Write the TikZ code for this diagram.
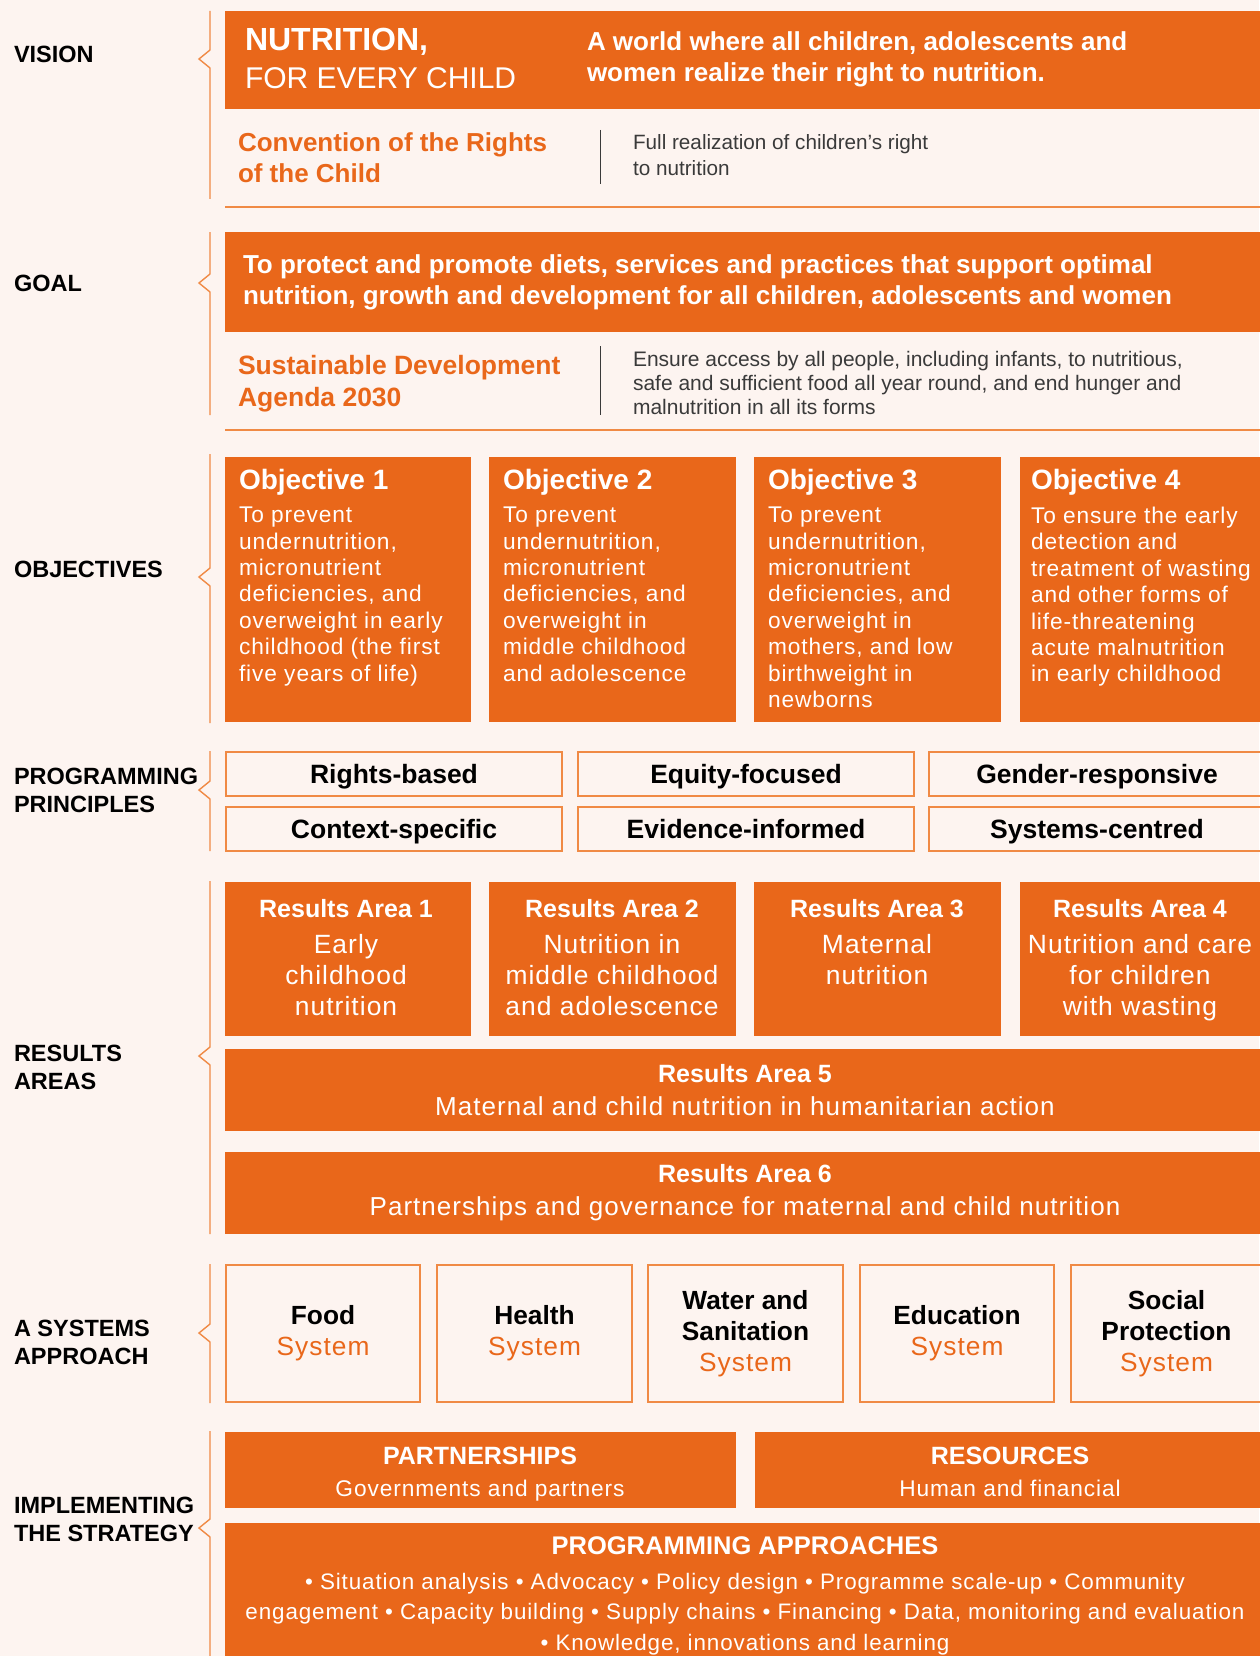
\documentclass[tikz,border=0pt]{standalone}
\usepackage{fontspec}
\setmainfont{Liberation Sans}
\newfontfamily\trk{Liberation Sans}[LetterSpace=4]
\definecolor{bg}{HTML}{FDF4F0}
\definecolor{org}{HTML}{E9671A}
\definecolor{lorg}{HTML}{F08A45}
\definecolor{dgray}{HTML}{3A3A3A}
\newcommand{\fz}[2]{\fontsize{#1}{#2}\selectfont}
\begin{document}
\begin{tikzpicture}[x=1pt,y=-1pt,
  every node/.style={inner sep=0pt, outer sep=0pt},
  obox/.style={fill=org, anchor=north west},
  lbl/.style={anchor=west, align=left, font=\bfseries\fz{23.5}{28}, text=black},
  brk/.style={draw=lorg, line width=1.4pt},
  rule/.style={draw=lorg, line width=1.3pt},
  sep/.style={draw=dgray, line width=0.8pt},
  src/.style={anchor=west, align=left, text=org, font=\bfseries\fz{26}{31}},
  srct/.style={anchor=west, align=left, text=dgray, font=\fz{21}{24}},
  ohead/.style={anchor=west, text=white, font=\bfseries\fz{28}{30}},
  obody/.style={anchor=north west, align=left, text=white, font=\trk\fz{22.7}{26.4}},
  pbox/.style={draw=lorg, line width=1.3pt, anchor=north west, minimum height=44pt, text height=19pt, text depth=0pt, font=\bfseries\fz{26.5}{28}},
  rhead/.style={text=white, font=\bfseries\fz{25}{28}},
  rbody/.style={anchor=north, align=center, text=white, font=\trk\fz{26.4}{31}},
  wide/.style={obox, minimum width=1040pt, align=center, text=white, font=\fz{26}{33}},
  sbox/.style={draw=lorg, line width=1.3pt, anchor=north west, minimum height=137pt, align=center, font=\bfseries\fz{26.3}{31}},
  ititle/.style={anchor=base, text=white, font=\bfseries\fz{25}{30}},
  isub/.style={anchor=base, text=white, font=\trk\fz{22.7}{30}}
]
\fill[bg] (0,0) rectangle (1259,1656);
\useasboundingbox (0,0) rectangle (1259,1656);

% left labels
\node[lbl] (lv) at (14,54) {VISION};
\node[lbl] (lg) at (14,283) {GOAL};
\node[lbl] (lo) at (14,569) {OBJECTIVES};
\node[lbl] (lp) at (14,790) {PROGRAMMING\\PRINCIPLES};
\node[lbl] (lr) at (14,1067) {RESULTS\\AREAS};
\node[lbl] (ls) at (14,1342) {A SYSTEMS\\APPROACH};
\node[lbl] (li) at (14,1519) {IMPLEMENTING\\THE STRATEGY};

% brackets
\draw[brk] (210,11) -- (210,50) -- (199,59) -- (210,68) -- (210,199);
\draw[brk] (210,232) -- (210,274) -- (199,283) -- (210,292) -- (210,415);
\draw[brk] (210,454) -- (210,568) -- (199,577) -- (210,586) -- (210,723);
\draw[brk] (210,751) -- (210,781) -- (199,790) -- (210,799) -- (210,851);
\draw[brk] (210,881) -- (210,1047) -- (199,1056) -- (210,1065) -- (210,1234);
\draw[brk] (210,1264) -- (210,1324) -- (199,1333) -- (210,1342) -- (210,1403);
\draw[brk] (210,1431) -- (210,1519) -- (199,1528) -- (210,1537) -- (210,1660);

% VISION
\node[obox, minimum width=1040pt, minimum height=98pt] (vb) at (225,11) {};
\node[anchor=base west, text=white, font=\bfseries\fz{32}{36}] (vn) at (245,51) {NUTRITION,};
\node[anchor=base west, text=white, font=\fz{30}{36}] (vf) at (245,89) {FOR EVERY CHILD};
\node[anchor=west, align=left, text=white, font=\bfseries\fz{26}{31}] (vs) at (587,59) {A world where all children, adolescents and\\women realize their right to nutrition.};
\draw[rule] (225,207) -- (1262,207);
\node[src] (cv) at (238,158) {Convention of the Rights\\of the Child};
\draw[sep] (600,130) -- (600,184);
\node[srct, font=\fz{20.7}{26}] (cvt) at (633,155) {Full realization of children’s right\\to nutrition};

% GOAL
\node[obox, minimum width=1040pt, minimum height=100pt] (gb) at (225,232) {};
\node[anchor=west, align=left, text=white, font=\bfseries\fz{26}{31}] (gt) at (243,282) {To protect and promote diets, services and practices that support optimal\\nutrition, growth and development for all children, adolescents and women};
\draw[rule] (225,430) -- (1262,430);
\node[src, font=\bfseries\fz{26.5}{32}] (sd) at (238,384) {Sustainable Development\\Agenda 2030};
\draw[sep] (600,346) -- (600,415);
\node[srct] (sdt) at (633,383) {Ensure access by all people, including infants, to nutritious,\\safe and sufficient food all year round, and end hunger and\\malnutrition in all its forms};

% OBJECTIVES
\node[obox, minimum width=246pt, minimum height=265pt] (o1) at (225,457) {};
\node[obox, minimum width=247pt, minimum height=265pt] (o2) at (489,457) {};
\node[obox, minimum width=247pt, minimum height=265pt] (o3) at (754,457) {};
\node[obox, minimum width=245pt, minimum height=265pt] (o4) at (1020,457) {};
\node[ohead] (o1h) at (239,482) {Objective 1};
\node[ohead] (o2h) at (503,482) {Objective 2};
\node[ohead] (o3h) at (768,482) {Objective 3};
\node[ohead] (o4h) at (1031,482) {Objective 4};
\node[obody] (o1b) at (239,507) {To prevent\\undernutrition,\\micronutrient\\deficiencies, and\\overweight in early\\childhood (the first\\five years of life)};
\node[obody] (o2b) at (503,507) {To prevent\\undernutrition,\\micronutrient\\deficiencies, and\\overweight in\\middle childhood\\and adolescence};
\node[obody] (o3b) at (768,507) {To prevent\\undernutrition,\\micronutrient\\deficiencies, and\\overweight in\\mothers, and low\\birthweight in\\newborns};
\node[obody] (o4b) at (1031,507) {To ensure the early\\detection and\\treatment of wasting\\and other forms of\\life-threatening\\acute malnutrition\\in early childhood};

% PRINCIPLES
\node[pbox, minimum width=336pt] (p1) at (226,752) {Rights-based};
\node[pbox, minimum width=336pt] (p2) at (578,752) {Equity-focused};
\node[pbox, minimum width=345pt] (p3) at (929,752) {\hspace*{-9pt}Gender-responsive};
\node[pbox, minimum width=336pt] (p4) at (226,807) {Context-specific};
\node[pbox, minimum width=336pt] (p5) at (578,807) {Evidence-informed};
\node[pbox, minimum width=345pt] (p6) at (929,807) {\hspace*{-9pt}Systems-centred};

% RESULTS AREAS
\node[obox, minimum width=246pt, minimum height=154pt] (r1) at (225,882) {};
\node[obox, minimum width=247pt, minimum height=154pt] (r2) at (489,882) {};
\node[obox, minimum width=247pt, minimum height=154pt] (r3) at (754,882) {};
\node[obox, minimum width=245pt, minimum height=154pt] (r4) at (1020,882) {};
\node[rhead] (r1h) at (346,909) {Results Area 1};
\node[rhead] (r2h) at (612,909) {Results Area 2};
\node[rhead] (r3h) at (877,909) {Results Area 3};
\node[rhead] (r4h) at (1140,909) {Results Area 4};
\node[rbody] (r1b) at (346,934) {Early\\childhood\\nutrition};
\node[rbody] (r2b) at (612,934) {Nutrition in\\middle childhood\\and adolescence};
\node[rbody] (r3b) at (877,934) {Maternal\\nutrition};
\node[rbody] (r4b) at (1140,934) {Nutrition and care\\for children\\with wasting};
\node[wide, minimum height=82pt] (r5) at (225,1049) {{\bfseries\fz{25}{33}Results Area 5}\\{\trk Maternal and child nutrition in humanitarian action}};
\node[wide, minimum height=82pt] (r6) at (225,1152) {{\bfseries\fz{25}{33}Results Area 6}\\{\trk Partnerships and governance for maternal and child nutrition}};

% SYSTEMS
\node[sbox, minimum width=194pt] (s1) at (226,1265) {Food\\\textcolor{org}{\mdseries\trk System}};
\node[sbox, minimum width=195pt] (s2) at (437,1265) {Health\\\textcolor{org}{\mdseries\trk System}};
\node[sbox, minimum width=195pt] (s3) at (648,1265) {Water and\\Sanitation\\\textcolor{org}{\mdseries\trk System}};
\node[sbox, minimum width=194pt] (s4) at (860,1265) {Education\\\textcolor{org}{\mdseries\trk System}};
\node[sbox, minimum width=200pt] (s5) at (1071,1265) {\hspace*{-9pt}Social\\\hspace*{-9pt}Protection\\\hspace*{-9pt}\textcolor{org}{\mdseries\trk System}};

% IMPLEMENTING
\node[obox, minimum width=511pt, minimum height=76pt] (ip) at (225,1432) {};
\node[obox, minimum width=510pt, minimum height=76pt] (ir) at (755,1432) {};
\node[ititle] (iph) at (480,1464) {PARTNERSHIPS};
\node[isub] (ipb) at (480,1496) {Governments and partners};
\node[ititle] (irh) at (1010,1464) {RESOURCES};
\node[isub] (irb) at (1010,1496) {Human and financial};
\node[obox, minimum width=1040pt, minimum height=140pt] (pa) at (225,1523) {};
\node[text=white, font=\bfseries\fz{25.5}{28}] (pah) at (745,1546) {PROGRAMMING APPROACHES};
\node[anchor=north, align=center, text=white, font=\trk\fz{22.4}{30.5}] (pab) at (745,1573) {• Situation analysis • Advocacy • Policy design • Programme scale-up • Community\\engagement • Capacity building • Supply chains • Financing • Data, monitoring and evaluation\\• Knowledge, innovations and learning};
\end{tikzpicture}
\end{document}
